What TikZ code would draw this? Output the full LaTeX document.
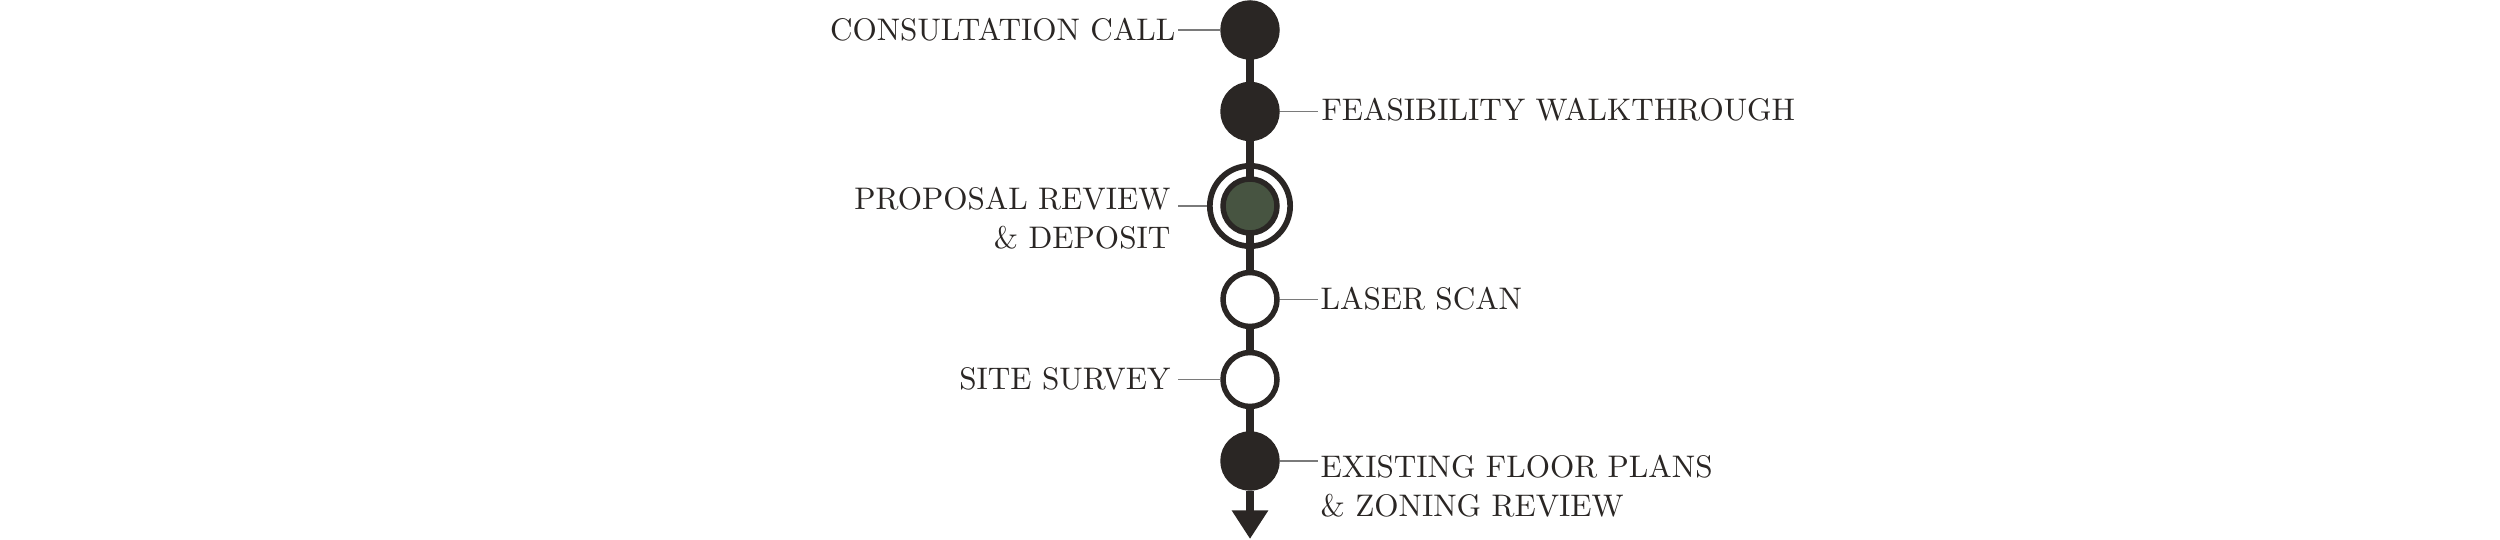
\documentclass[tikz,border=0pt]{standalone}
\usetikzlibrary{arrows.meta,backgrounds}
\definecolor{ink}{HTML}{2A2624}
\definecolor{moss}{HTML}{475441}
\definecolor{leadgray}{HTML}{7A7A7A}
\begin{document}
\begin{tikzpicture}[x=0.33333pt,y=-0.33333pt,
  dot/.style={circle,draw=ink,line width=1.83pt,minimum size=18pt,inner sep=0pt},
  fulldot/.style={dot,fill=ink},
  opendot/.style={dot,fill=white},
  activedot/.style={dot,fill=moss},
  ring/.style={circle,draw=ink,line width=1.9pt,minimum size=26.77pt,inner sep=0pt},
  spine/.style={draw=ink,line width=2.77pt},
  leader/.style={draw=leadgray,line width=0.5pt},
  lab/.style={font=\fontsize{10.4pt}{12.9pt}\selectfont,text=ink,inner sep=0pt}]
\useasboundingbox (0,0) rectangle (2500,540);
% stations
\node[fulldot] (n1) at (1250,30) {};
\node[fulldot] (n2) at (1250,111.5) {};
\node[ring] (n3) at (1250,206) {};
\node[activedot] (n3i) at (1250,206) {};
\node[opendot] (n4) at (1250,299.5) {};
\node[opendot] (n5) at (1250,379.5) {};
\node[fulldot] (n6) at (1250,461) {};
\coordinate (end) at (1250,539);
% spine
\begin{pgfonlayer}{background}
\draw[spine] (n1.center) -- (n6.center);
\end{pgfonlayer}
\draw[spine,-{Triangle[width=11.5pt,length=9.5pt]}] (n6.south) -- (end);
% labels
\node[lab,anchor=base east] (l1) at (1176,41) {CONSULTATION CALL};
\node[lab,anchor=base west] (l2) at (1321,121) {FEASIBILITY WALKTHROUGH};
\node[lab,anchor=north east,align=right] (l3) at (1171,187) {PROPOSAL REVIEW\\\& DEPOSIT};
\node[lab,anchor=base west] (l4) at (1320,310) {LASER SCAN};
\node[lab,anchor=base east] (l5) at (1171,390) {SITE SURVEY};
\node[lab,anchor=north west,align=left] (l6) at (1320,455) {EXISTING FLOOR PLANS\\\& ZONING REVIEW};
% leader ends
\coordinate (e1) at (1178,30);
\coordinate (e2) at (1318,111.5);
\coordinate (e3) at (1178,206);
\coordinate (e4) at (1318,299.5);
\coordinate (e5) at (1178,379.5);
\coordinate (e6) at (1318,461);
\draw[leader] (n1.west) -- (e1);
\draw[leader] (n2.east) -- (e2);
\draw[leader] (n3.west) -- (e3);
\draw[leader] (n4.east) -- (e4);
\draw[leader] (n5.west) -- (e5);
\draw[leader] (n6.east) -- (e6);
\end{tikzpicture}
\end{document}
